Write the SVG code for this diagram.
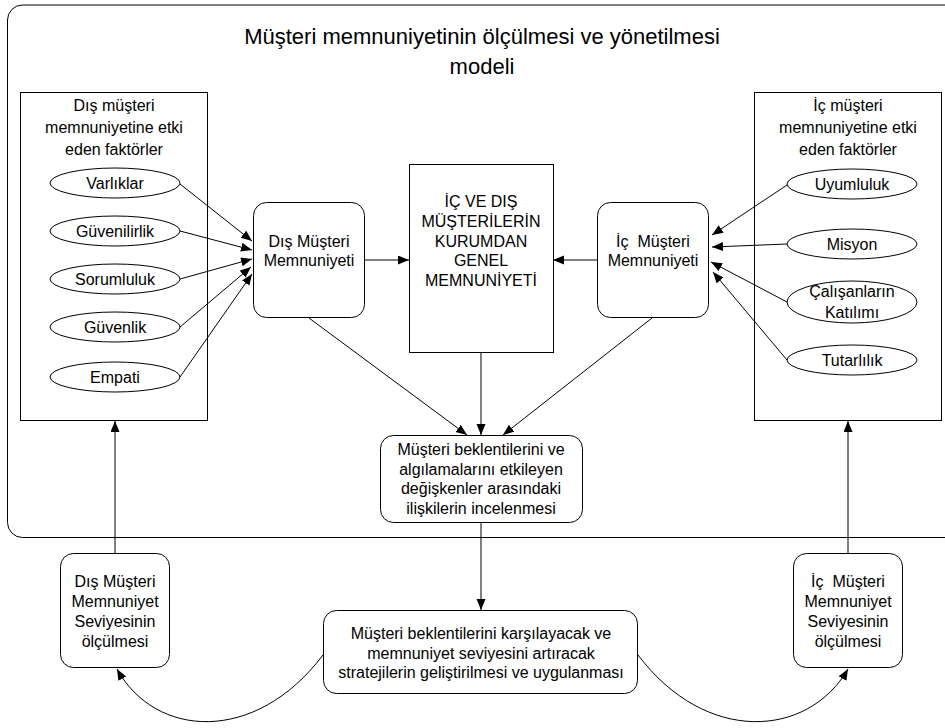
<svg xmlns="http://www.w3.org/2000/svg" width="945" height="728" viewBox="0 0 945 728">
  <defs>
    <marker id="arrow" markerUnits="userSpaceOnUse" markerWidth="12" markerHeight="10" refX="11" refY="4.5" orient="auto">
      <path d="M0,0 L11,4.5 L0,9 z" fill="#000"/>
    </marker>
    <style>
      text { font-family: "Liberation Sans", Arial, sans-serif; font-size: 16px; fill: #000; text-anchor: middle; }
      .title { font-size: 22px; }
      .box { fill: #fff; stroke: #000; stroke-width: 1; }
      .oval { fill: #fff; stroke: #000; stroke-width: 1; }
      .edge { fill: none; stroke: #000; stroke-width: 1; marker-end: url(#arrow); }
    </style>
  </defs>
  <rect width="945" height="728" fill="#fff"/>

  <!-- outer frame of the model -->
  <g id="frame">
    <rect x="7.5" y="5" width="960" height="532.5" rx="15" ry="15" fill="none" stroke="#000"/>
    <text class="title" x="482" y="44">Müşteri memnuniyetinin ölçülmesi ve yönetilmesi</text>
    <text class="title" x="482" y="74">modeli</text>
  </g>

  <!-- external factors panel -->
  <g id="dis-faktorler">
    <rect class="box" x="20.5" y="92.5" width="187" height="328"/>
    <text x="114" y="111">Dış müşteri</text>
    <text x="114" y="133">memnuniyetine etki</text>
    <text x="114" y="155">eden faktörler</text>
  </g>
  <g id="varliklar">
    <ellipse class="oval" cx="115" cy="183" rx="65" ry="15"/>
    <text x="115" y="189">Varlıklar</text>
  </g>
  <g id="guvenilirlik">
    <ellipse class="oval" cx="115" cy="231" rx="65" ry="15"/>
    <text x="115" y="237">Güvenilirlik</text>
  </g>
  <g id="sorumluluk">
    <ellipse class="oval" cx="115" cy="279" rx="65" ry="15"/>
    <text x="115" y="285">Sorumluluk</text>
  </g>
  <g id="guvenlik">
    <ellipse class="oval" cx="115" cy="327" rx="65" ry="15"/>
    <text x="115" y="333">Güvenlik</text>
  </g>
  <g id="empati">
    <ellipse class="oval" cx="115" cy="377" rx="65" ry="15"/>
    <text x="115" y="383">Empati</text>
  </g>

  <!-- internal factors panel -->
  <g id="ic-faktorler">
    <rect class="box" x="754.5" y="92.5" width="187" height="328"/>
    <text x="848" y="111">İç müşteri</text>
    <text x="848" y="133">memnuniyetine etki</text>
    <text x="848" y="155">eden faktörler</text>
  </g>
  <g id="uyumluluk">
    <ellipse class="oval" cx="852" cy="184" rx="65" ry="15"/>
    <text x="852" y="190">Uyumluluk</text>
  </g>
  <g id="misyon">
    <ellipse class="oval" cx="852" cy="244" rx="65" ry="15"/>
    <text x="852" y="250">Misyon</text>
  </g>
  <g id="calisanlar">
    <ellipse class="oval" cx="852" cy="302" rx="65" ry="21"/>
    <text x="852" y="297">Çalışanların</text>
    <text x="852" y="318">Katılımı</text>
  </g>
  <g id="tutarlilik">
    <ellipse class="oval" cx="852" cy="360" rx="65" ry="15"/>
    <text x="852" y="366">Tutarlılık</text>
  </g>

  <!-- satisfaction nodes -->
  <g id="dis-memnuniyet">
    <rect class="box" x="253.5" y="202.5" width="111" height="115" rx="13" ry="13"/>
    <text x="309" y="247">Dış Müşteri</text>
    <text x="309" y="266">Memnuniyeti</text>
  </g>
  <g id="genel-memnuniyet">
    <rect class="box" x="409.5" y="164.5" width="144" height="188"/>
    <text x="481" y="207">İÇ VE DIŞ</text>
    <text x="481" y="227">MÜŞTERİLERİN</text>
    <text x="481" y="246.5">KURUMDAN</text>
    <text x="481" y="266">GENEL</text>
    <text x="481" y="285.5">MEMNUNİYETİ</text>
  </g>
  <g id="ic-memnuniyet">
    <rect class="box" x="597.5" y="202.5" width="111" height="115" rx="13" ry="13"/>
    <text x="653" y="247" xml:space="preserve">İç  Müşteri</text>
    <text x="653" y="266">Memnuniyeti</text>
  </g>
  <g id="iliskiler">
    <rect class="box" x="380.5" y="435.5" width="202" height="87" rx="13" ry="13"/>
    <text x="481" y="455">Müşteri beklentilerini ve</text>
    <text x="481" y="474.5">algılamalarını etkileyen</text>
    <text x="481" y="494">değişkenler arasındaki</text>
    <text x="481" y="513.5">ilişkilerin incelenmesi</text>
  </g>

  <!-- measurement and strategy nodes -->
  <g id="dis-olcum">
    <rect class="box" x="60.5" y="553.5" width="109" height="114" rx="13" ry="13"/>
    <text x="115" y="587">Dış Müşteri</text>
    <text x="115" y="607">Memnuniyet</text>
    <text x="115" y="627">Seviyesinin</text>
    <text x="115" y="647">ölçülmesi</text>
  </g>
  <g id="stratejiler">
    <rect class="box" x="323.5" y="610.5" width="314" height="83" rx="13" ry="13"/>
    <text x="481" y="639">Müşteri beklentilerini karşılayacak ve</text>
    <text x="481" y="658.5">memnuniyet seviyesini artıracak</text>
    <text x="481" y="678">stratejilerin geliştirilmesi ve uygulanması</text>
  </g>
  <g id="ic-olcum">
    <rect class="box" x="793.5" y="553.5" width="109" height="114" rx="13" ry="13"/>
    <text x="848" y="587" xml:space="preserve">İç  Müşteri</text>
    <text x="848" y="607">Memnuniyet</text>
    <text x="848" y="627">Seviyesinin</text>
    <text x="848" y="647">ölçülmesi</text>
  </g>

  <!-- connectors -->
  <g id="connectors">
    <line class="edge" x1="180" y1="184" x2="252" y2="241"/>
    <line class="edge" x1="180" y1="231" x2="252" y2="250"/>
    <line class="edge" x1="180" y1="279" x2="252" y2="259"/>
    <line class="edge" x1="180" y1="327" x2="251" y2="267"/>
    <line class="edge" x1="180" y1="377" x2="252" y2="274"/>

    <line class="edge" x1="787" y1="185" x2="712" y2="235"/>
    <line class="edge" x1="787" y1="244" x2="712" y2="247"/>
    <line class="edge" x1="787" y1="302" x2="711" y2="262"/>
    <line class="edge" x1="787" y1="360" x2="713" y2="272"/>

    <line class="edge" x1="364" y1="260" x2="409" y2="260"/>
    <line class="edge" x1="597" y1="260" x2="553" y2="260"/>

    <line class="edge" x1="309" y1="318" x2="467" y2="435"/>
    <line class="edge" x1="481" y1="353" x2="481" y2="435"/>
    <line class="edge" x1="652" y1="318" x2="503" y2="435"/>

    <line class="edge" x1="481" y1="523" x2="481" y2="610"/>

    <line class="edge" x1="115" y1="553" x2="115" y2="421"/>
    <line class="edge" x1="848" y1="553" x2="848" y2="421"/>

    <path class="edge" d="M323,655 C255,745 155,738 117,669"/>
    <path class="edge" d="M638,655 C706,745 808,738 848,669"/>
  </g>
</svg>
